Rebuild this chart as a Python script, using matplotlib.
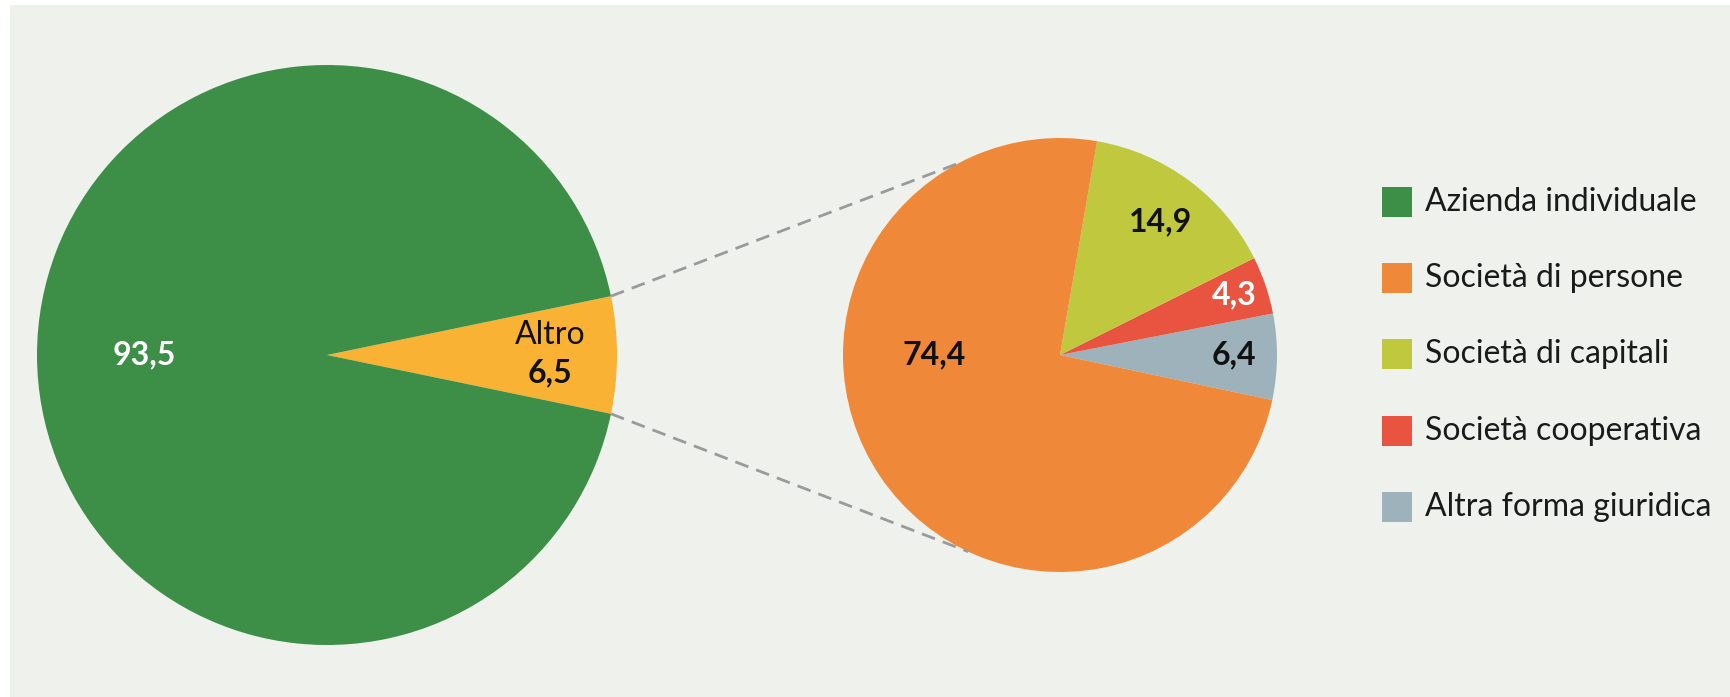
import numpy as np
import matplotlib
matplotlib.use('Agg')
import matplotlib.pyplot as plt
from matplotlib.patches import Rectangle

plt.rcParams['font.family'] = ['Lato', 'DejaVu Sans']

# Data
main_labels = ['Altro', 'Azienda individuale']
main_values = [6.5, 93.5]
main_colors = ['#f9b233', '#3d8f48']

sub_labels = ['Altra forma giuridica', 'Società cooperativa', 'Società di capitali', 'Società di persone']
sub_values = [6.4, 4.3, 14.9, 74.4]
sub_colors = ['#9db2bb', '#e8543f', '#c0c83e', '#f0883a']

legend_labels = ['Azienda individuale', 'Società di persone', 'Società di capitali',
                 'Società cooperativa', 'Altra forma giuridica']
legend_colors = ['#3d8f48', '#f0883a', '#c0c83e', '#e8543f', '#9db2bb']

W, H = 1731, 697
bg = '#eff2ec'

fig = plt.figure(figsize=(W / 100, H / 100), dpi=100)
fig.patch.set_facecolor('white')
ax = fig.add_axes([0, 0, 1, 1])

# background panel
ax.add_patch(Rectangle((10, 0), W - 10, H - 5, facecolor=bg, edgecolor='none', zorder=0))

# main pie
c1 = (327, H - 355)
r1 = 290
half = main_values[0] * 3.6 / 2
ax.pie(main_values, colors=main_colors, startangle=-half, counterclock=True,
       center=c1, radius=r1, wedgeprops=dict(linewidth=0))

# sub pie
c2 = (1060, H - 355)
r2 = 217
ax.pie(sub_values, colors=sub_colors, startangle=-12, counterclock=True,
       center=c2, radius=r2, wedgeprops=dict(linewidth=0))
ax.set_xlim(0, W)
ax.set_ylim(0, H)
ax.set_aspect('equal')
ax.axis('off')

# connecting dashed lines
for a1, a2 in [(half, 118), (-half, -115)]:
    p1 = (c1[0] + r1 * np.cos(np.radians(a1)), c1[1] + r1 * np.sin(np.radians(a1)))
    p2 = (c2[0] + r2 * np.cos(np.radians(a2)), c2[1] + r2 * np.sin(np.radians(a2)))
    ax.plot([p1[0], p2[0]], [p1[1], p2[1]], color='#9a9a9a', lw=2, ls=(0, (5, 3)), zorder=1)


def fmt(v):
    return f'{v:.1f}'.replace('.', ',')


def polar(c, r, ang, frac):
    return c[0] + r * frac * np.cos(np.radians(ang)), c[1] + r * frac * np.sin(np.radians(ang))


fs = 23

# main labels
x, y = polar(c1, r1, 180, 0.63)
ax.text(x, y, fmt(main_values[1]), color='white', fontsize=fs, fontweight='bold', ha='center', va='center')
x, y = polar(c1, r1, 0, 0.77)
ax.text(x, y + 20, main_labels[0], color='#111111', fontsize=fs, ha='center', va='center')
ax.text(x, y - 18, fmt(main_values[0]), color='#111111', fontsize=fs, fontweight='bold', ha='center', va='center')

# sub labels
sub_pos = [(0, 0.80, '#111111'), (19, 0.85, 'white'), (53, 0.77, '#111111'), (180, 0.58, '#111111')]
for v, (ang, frac, col) in zip(sub_values, sub_pos):
    x, y = polar(c2, r2, ang, frac)
    ax.text(x, y, fmt(v), color=col, fontsize=fs, fontweight='bold', ha='center', va='center')

# legend
for i, (lab, col) in enumerate(zip(legend_labels, legend_colors)):
    yc = H - (202 + i * 76.2)
    ax.add_patch(Rectangle((1382, yc - 15), 30, 30, facecolor=col, edgecolor='none'))
    ax.text(1425, yc, lab, fontsize=fs, color='#1a1a1a', ha='left', va='center')

fig.savefig('out.png', dpi=100, facecolor=fig.get_facecolor())
